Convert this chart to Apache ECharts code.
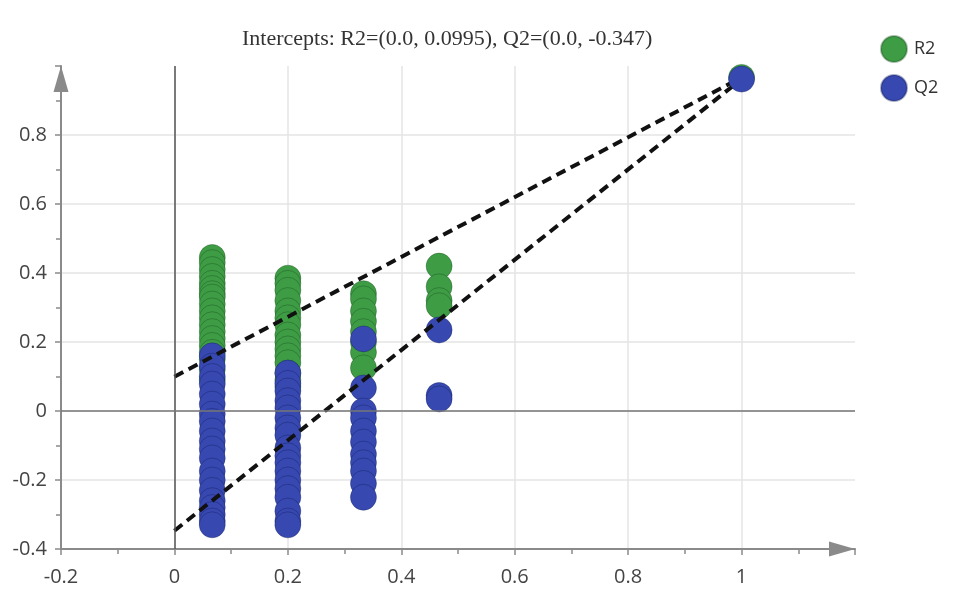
<!DOCTYPE html>
<html>
<head>
<meta charset="utf-8">
<script src="https://cdn.jsdelivr.net/npm/echarts@6/dist/echarts.min.js"></script>
<style>html,body{margin:0;padding:0;background:#fff}#c{width:953px;height:603px}</style>
</head>
<body>
<div id="c"></div>
<script>
// ---- data ----
const titleText = 'Intercepts: R2=(0.0, 0.0995), Q2=(0.0, -0.347)';
const colX = [0.0667, 0.2, 0.3333, 0.4667];
const r2Col1 = [0.445, 0.43, 0.41, 0.39, 0.37, 0.355, 0.34, 0.33, 0.31, 0.29, 0.27, 0.25, 0.23, 0.21, 0.19, 0.17, 0.15, 0.12, 0.09];
const q2Col1 = [0.16, 0.13, 0.10, 0.078, 0.049, 0.02, -0.009, -0.03, -0.058, -0.087, -0.11, -0.136, -0.174, -0.2, -0.23, -0.26, -0.28, -0.30, -0.319, -0.33];
const r2Col2 = [0.385, 0.37, 0.35, 0.32, 0.29, 0.27, 0.25, 0.22, 0.20, 0.18, 0.16, 0.14, 0.11, 0.09, 0.07];
const q2Col2 = [0.11, 0.08, 0.058, 0.03, 0.009, -0.02, -0.049, -0.07, -0.107, -0.13, -0.15, -0.174, -0.2, -0.225, -0.25, -0.29, -0.319, -0.33];
const r2Col3 = [0.34, 0.325, 0.29, 0.26, 0.23, 0.20, 0.17, 0.125];
const q2Col3 = [0.209, 0.067, 0.0, -0.02, -0.058, -0.09, -0.125, -0.15, -0.174, -0.21, -0.25];
const r2Col4 = [0.42, 0.36, 0.32, 0.305];
const q2Col4 = [0.235, 0.045, 0.035];
const fullX = 1.0;
const r2Full = 0.967;
const q2Full = 0.962;
const r2Intercept = 0.0995;
const q2Intercept = -0.347;
const xTickLabels = ['-0.2', '0', '0.2', '0.4', '0.6', '0.8', '1'];
const yTickLabels = ['-0.4', '-0.2', '0', '0.2', '0.4', '0.6', '0.8'];

// ---- build ----
function pts(x, arr) { return arr.map(v => [x, v]); }
const r2Data = [].concat(pts(colX[0], r2Col1), pts(colX[1], r2Col2), pts(colX[2], r2Col3), pts(colX[3], r2Col4));
const q2Data = [].concat(pts(colX[0], q2Col1), pts(colX[1], q2Col2), pts(colX[2], q2Col3), pts(colX[3], q2Col4));

const GREEN = '#3e9c45';
const BLUE = '#3748b1';
const AXIS = '#8a8a8a';

function fmtLabel(list) {
  return function (v) {
    const s = String(+v.toFixed(1));
    return list.indexOf(s) >= 0 ? s : '';
  };
}

const chart = echarts.init(document.getElementById('c'), null, {renderer: 'canvas'});
const axisCommon = {
  type: 'value',
  interval: 0.2,
  axisLine: {show: true, onZero: false, symbol: ['none', 'triangle'], symbolSize: [15, 26], symbolOffset: [0, -13],
             lineStyle: {color: AXIS, width: 2}},
  axisTick: {show: true, length: 6, lineStyle: {color: AXIS, width: 1.5}},
  minorTick: {show: true, splitNumber: 2, length: 5, lineStyle: {color: AXIS, width: 1.5}},
  splitLine: {show: true, showMinLine: false, showMaxLine: false, lineStyle: {color: '#e4e4e4', width: 1.5}},
  minorSplitLine: {show: false}
};
const scatterStyle = (c, b) => ({color: c, opacity: 1, borderColor: b, borderWidth: 1});

chart.setOption({
  animation: false,
  backgroundColor: '#fff',
  title: {
    text: titleText, left: 237, top: 23,
    textStyle: {fontFamily: 'Liberation Serif', fontSize: 22, fontWeight: 'normal', color: '#333'}
  },
  legend: {
    data: ['R2', 'Q2'], orient: 'vertical', left: 875, top: 30,
    itemWidth: 26, itemHeight: 26, itemGap: 11, icon: 'circle',
    textStyle: {fontFamily: 'Open Sans', fontSize: 18, color: '#333', padding: [0, 0, 0, 2]}
  },
  grid: {left: 61, right: 98, top: 66, bottom: 54, containLabel: false},
  xAxis: Object.assign({}, axisCommon, {
    min: -0.2, max: 1.2,
    axisLabel: {formatter: fmtLabel(xTickLabels), fontFamily: 'Open Sans', fontSize: 20, color: '#444', margin: 18}
  }),
  yAxis: Object.assign({}, axisCommon, {
    min: -0.4, max: 1.0,
    axisLabel: {formatter: fmtLabel(yTickLabels), fontFamily: 'Open Sans', fontSize: 20, color: '#444', margin: 14}
  }),
  series: [
    {
      name: 'zero', type: 'scatter', data: [], z: 1, silent: true,
      markLine: {
        silent: true, symbol: 'none', label: {show: false}, animation: false,
        data: [
          {xAxis: 0, lineStyle: {color: '#555', width: 1.5, type: 'solid'}},
          {yAxis: 0, lineStyle: {color: '#777', width: 1.5, type: 'solid'}}
        ]
      }
    },
    {
      name: 'R2', type: 'scatter', data: r2Data, z: 2, symbolSize: 26,
      itemStyle: scatterStyle(GREEN, 'rgba(20,70,25,0.35)')
    },
    {
      name: 'Q2', type: 'scatter', data: q2Data, z: 3, symbolSize: 26,
      itemStyle: scatterStyle(BLUE, 'rgba(15,25,80,0.35)')
    },
    {
      name: 'R2 line', type: 'line', data: [[0, r2Intercept], [fullX, r2Full]], z: 4, showSymbol: false, silent: true,
      lineStyle: {color: '#111', width: 4, type: [10, 6]}
    },
    {
      name: 'Q2 line', type: 'line', data: [[0, q2Intercept], [fullX, q2Full]], z: 4, showSymbol: false, silent: true,
      lineStyle: {color: '#111', width: 4, type: [10, 6]}
    },
    {
      name: 'R2', type: 'scatter', data: [[fullX, r2Full]], z: 5, symbolSize: 26,
      itemStyle: scatterStyle(GREEN, 'rgba(20,70,25,0.35)')
    },
    {
      name: 'Q2', type: 'scatter', data: [[fullX, q2Full]], z: 6, symbolSize: 26,
      itemStyle: scatterStyle(BLUE, 'rgba(15,25,80,0.35)')
    }
  ]
});
</script>
</body>
</html>
